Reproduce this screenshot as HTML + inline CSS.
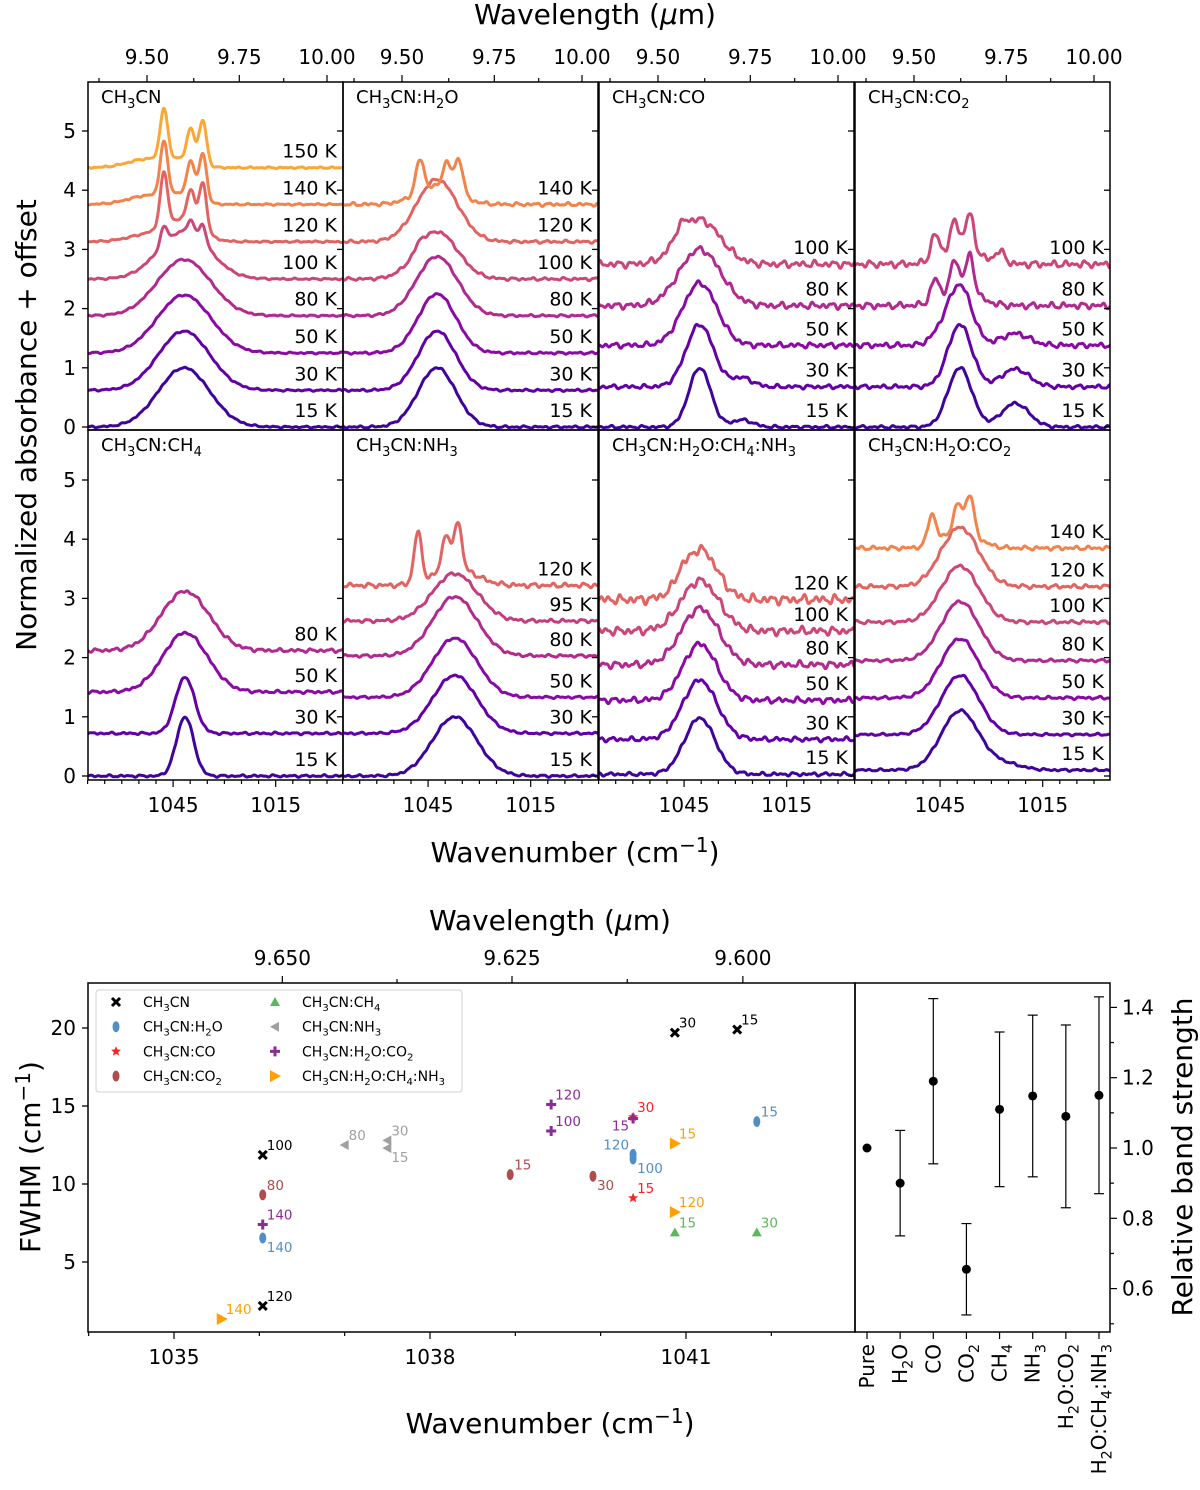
<!DOCTYPE html>
<html><head><meta charset="utf-8">
<style>
html,body{margin:0;padding:0;background:#fff;}
svg{display:block;font-family:"DejaVu Sans","Liberation Sans",sans-serif;}
</style></head>
<body>
<svg id="fig" width="1200" height="1490" viewBox="0 0 1200 1490" xmlns="http://www.w3.org/2000/svg">
<g id="topgrid"></g>
<g id="bot"></g>
<g id="rb"></g>
</svg>
<script>
// ---------- Spectra data ----------
const panelTitles = ["CH3CN","CH3CN:H2O","CH3CN:CO","CH3CN:CO2","CH3CN:CH4","CH3CN:NH3","CH3CN:H2O:CH4:NH3","CH3CN:H2O:CO2"];
const panelTemps = [
 [15,30,50,80,100,120,140,150],
 [15,30,50,80,100,120,140],
 [15,30,50,80,100],
 [15,30,50,80,100],
 [15,30,50,80],
 [15,30,50,80,95,120],
 [15,30,50,80,100,120],
 [15,30,50,80,100,120,140]
];
const panelOffsets = [
 [0,0.62,1.25,1.88,2.5,3.13,3.76,4.38],
 [0,0.62,1.25,1.88,2.5,3.13,3.76],
 [0,0.68,1.38,2.05,2.75],
 [0,0.68,1.38,2.05,2.75],
 [0,0.72,1.42,2.12],
 [0,0.72,1.33,2.03,2.62,3.22],
 [0.03,0.62,1.28,1.88,2.45,2.98],
 [0.1,0.7,1.32,1.95,2.6,3.2,3.85]
];
// peaks: [center cm-1, sigma cm-1, amplitude]
const panelPeaks = [
 [
  [[1041.8,7.5,1.0]],
  [[1041.8,7.5,1.0]],
  [[1041.8,7.8,0.98]],
  [[1041.8,7.8,0.95]],
  [[1041.8,7.5,0.8],[1047.7,1.0,0.3],[1039.8,1.0,0.22],[1036.3,1.0,0.3]],
  [[1041.8,5,0.35],[1052,6,0.12],[1047.7,1.1,0.9],[1039.8,1.1,0.55],[1036.3,1.1,0.8]],
  [[1042,4,0.15],[1052,6,0.15],[1047.7,1.1,0.9],[1039.8,1.1,0.6],[1036.3,1.1,0.8]],
  [[1042,4,0.12],[1052,6,0.15],[1047.7,1.1,0.85],[1039.8,1.1,0.55],[1036.3,1.1,0.75]]
 ],
 [
  [[1042.4,5.5,1.0]],
  [[1042.4,5.5,1.0]],
  [[1042.4,5.5,1.0]],
  [[1042.4,6,1.0]],
  [[1042.4,6,0.8],[1047.4,1.2,0.1]],
  [[1042.4,6,1.05]],
  [[1042.4,6,0.3],[1047.4,1.2,0.55],[1039.5,1.2,0.45],[1036,1.2,0.6]]
 ],
 [
  [[1040.4,3.2,1.0],[1028,3,0.12]],
  [[1040.4,4,1.05],[1028,3,0.15]],
  [[1040.4,5,1.05]],
  [[1040.4,6,0.95]],
  [[1040.4,6,0.75],[1046,2,0.2]]
 ],
 [
  [[1039.2,3.5,1.0],[1023,4,0.4]],
  [[1039.2,3.5,1.05],[1023,4,0.3]],
  [[1039.2,3.5,1.0],[1045,3,0.15],[1023,4,0.2]],
  [[1039.2,5,0.3],[1046.5,1.2,0.35],[1040.7,1.2,0.5],[1036.3,1.2,0.6]],
  [[1039.2,5,0.3],[1046.5,1.2,0.4],[1040.7,1.2,0.45],[1036.3,1.2,0.6],[1027.5,1.5,0.2]]
 ],
 [
  [[1041.5,2.5,1.0]],
  [[1041.5,2.8,0.95]],
  [[1041.5,6.5,1.0]],
  [[1041.5,7,1.0]]
 ],
 [
  [[1037.2,6.5,1.0]],
  [[1037.2,6.5,0.98]],
  [[1037.2,6.5,1.0]],
  [[1037.2,6.5,1.0]],
  [[1037.2,6.5,0.8]],
  [[1037.2,6,0.3],[1048,1.1,0.85],[1039.8,1.1,0.6],[1036.3,1.1,0.8]]
 ],
 [
  [[1040.4,4.5,0.95]],
  [[1040.4,5,1.0]],
  [[1040.4,5,0.95]],
  [[1040.4,5.5,0.95]],
  [[1040.4,5.5,0.85]],
  [[1040.4,5,0.85],[1046,1.2,0.1]]
 ],
 [
  [[1039.2,5.5,1.0],[1026,5,0.1]],
  [[1039.2,5.5,1.0]],
  [[1039.2,5.5,1.0]],
  [[1039.2,5.5,1.0]],
  [[1039.2,5.5,0.95]],
  [[1039.2,5.5,1.0]],
  [[1039.2,5,0.3],[1047.4,1.2,0.5],[1039.8,1.2,0.45],[1036.3,1.2,0.65]]
 ]
];
const panelNoise = [
 [0.015,0.015,0.015,0.015,0.015,0.015,0.015,0.015],
 [0.02,0.02,0.02,0.02,0.025,0.025,0.03],
 [0.025,0.035,0.045,0.055,0.06],
 [0.025,0.035,0.045,0.055,0.06],
 [0.02,0.02,0.025,0.03],
 [0.02,0.02,0.02,0.025,0.03,0.04],
 [0.03,0.04,0.05,0.06,0.07,0.08],
 [0.02,0.02,0.025,0.025,0.03,0.035,0.035]
];
const tempColors = {15:"#3e049c",30:"#6300a7",50:"#8b0aa5",80:"#b12a90",95:"#c43e7f",100:"#cc4778",120:"#e16462",140:"#f2844b",150:"#fca636"};
const yTicksTop = [0,1,2,3,4,5];
const wnTickLabels = [1045,1015];
const wlTickLabels = ["9.50","9.75","10.00"];

// ---------- Scatter data ----------
const seriesNames = ["CH3CN","CH3CN:H2O","CH3CN:CO","CH3CN:CO2","CH3CN:CH4","CH3CN:NH3","CH3CN:H2O:CO2","CH3CN:H2O:CH4:NH3"];
const seriesWn = [
 [1036.04,1036.04,1040.87,1041.6],
 [1036.04,1040.38,1040.38,1041.83],
 [1040.38,1040.38],
 [1036.04,1038.94,1039.91],
 [1040.87,1041.83],
 [1037.0,1037.5,1037.5],
 [1036.04,1039.42,1039.42,1040.38],
 [1035.56,1040.87,1040.87]
];
const seriesFwhm = [
 [11.86,2.18,19.7,19.9],
 [6.54,11.9,11.6,14.0],
 [14.3,9.1],
 [9.3,10.6,10.5],
 [6.9,6.9],
 [12.5,12.8,12.3],
 [7.4,15.1,13.4,14.2],
 [1.35,12.6,8.2]
];
const seriesTemps = [
 [100,120,30,15],
 [140,120,100,15],
 [30,15],
 [80,15,30],
 [15,30],
 [80,30,15],
 [140,120,100,15],
 [140,15,120]
];
const seriesLabelSide = [
 ["ur","ur","ur","ur"],
 ["lr","ul","lr","ur"],
 ["ur","ur"],
 ["ur","ur","lr"],
 ["ur","ur"],
 ["ur","ur","lr"],
 ["ur","ur","ur","ll"],
 ["ur","ur","ur"]
];
const seriesColors = ["#000000","#4f8fc8","#ff2020","#b04c4c","#5cb85c","#a0a0a0","#8b2c94","#ffa000"];
const seriesMarkers = ["x","ellipse","star","ellipse","tri-up","tri-left","plus","tri-right"];
const fwhmTicks = [5,10,15,20];
const wnTicksBot = [1035,1038,1041];
const wlTicksBot = ["9.650","9.625","9.600"];

// ---------- Band strength data ----------
const bandCats = ["Pure","H2O","CO","CO2","CH4","NH3","H2O:CO2","H2O:CH4:NH3"];
const bandVals = [1.0,0.9,1.19,0.655,1.11,1.148,1.09,1.15];
const bandErr = [0,0.15,0.235,0.13,0.22,0.23,0.26,0.28];
const bandTicks = [0.6,0.8,1.0,1.2,1.4];

const NS="http://www.w3.org/2000/svg";
function el(tag, attrs, parent){const e=document.createElementNS(NS,tag);for(const k in attrs)e.setAttribute(k,attrs[k]);if(parent)parent.appendChild(e);return e;}
function chem(s,size){
  const d=(size*0.28).toFixed(1), fs=(size*0.72).toFixed(1);
  let out="",sub=false;
  const parts=s.match(/\d+|\D+/g)||[];
  for(const p of parts){
    if(/^\d+$/.test(p)){out+=`<tspan dy="${d}" font-size="${fs}">${p}</tspan>`;sub=true;}
    else{out+= sub?`<tspan dy="-${d}">${p}</tspan>`:`<tspan>${p}</tspan>`;sub=false;}
  }
  return out;
}
function txt(parent,x,y,s,size,anchor,fill,extra){const t=el("text",Object.assign({x:x,y:y,"font-size":size,"text-anchor":anchor||"start",fill:fill||"#000"},extra||{}),parent);t.innerHTML=s;return t;}

// ================= TOP GRID =================
const topG=document.getElementById("topgrid");
const colLeft=[88,343,599,855], colW=255;
const rowTop=[82,430], rowBot=[430,780], rowZero=[427,776], unit=59.2;
function pxWn(left,wn){return left+59+(1052.63-wn)*3.42;}
function pyTop(r,v){return rowZero[r]-v*unit;}
function noise(wn,k){return 0.5*Math.sin(wn*2.1+k*1.3)+0.3*Math.sin(wn*3.7+k*2.9)+0.4*Math.sin(wn*1.3+k*0.7);}
const defs=el("defs",{},topG);
for(let p=0;p<8;p++){
  const c=p%4,r=Math.floor(p/4),left=colLeft[c],tp=rowTop[r],bt=rowBot[r];
  const g=el("g",{},topG);
  
  
  const cp=el("clipPath",{id:"cp"+p},defs);
  el("rect",{x:left,y:tp,width:colW,height:bt-tp},cp);
  const cg=el("g",{"clip-path":"url(#cp"+p+")"},g);
  const temps=panelTemps[p];
  for(let i=0;i<temps.length;i++){
    let d="";
    for(let wn=1071;wn>=994;wn-=0.25){
      let v=panelOffsets[p][i];
      for(const pk of panelPeaks[p][i]) v+=pk[2]*Math.exp(-0.5*Math.pow((wn-pk[0])/pk[1],2));
      v+=panelNoise[p][i]*noise(wn,i+p*7);
      d+=(d?"L":"M")+pxWn(left,wn).toFixed(1)+","+pyTop(r,v).toFixed(1);
    }
    const path=el("path",{d:d,fill:"none",stroke:tempColors[temps[i]],"stroke-width":3,"stroke-linejoin":"round"},cg);
    
    
    const lb=txt(g,left+colW-6,pyTop(r,panelOffsets[p][i])-10,temps[i]+" K",19,"end");
    
    
  }
  el("rect",{x:left,y:tp,width:colW,height:bt-tp,fill:"none",stroke:"#000","stroke-width":1.5},g);
  const tt=txt(g,left+13,tp+21,chem(panelTitles[p],18),18,"start");
  
  
  for(const v of yTicksTop){const y=pyTop(r,v); if(y>tp+2) el("line",{x1:left+colW,x2:left+colW-6,y1:y,y2:y,stroke:"#000","stroke-width":1.3},g);}
  if(c===0){
    for(const v of yTicksTop){const y=pyTop(r,v); if(y<tp+2) continue;
      el("line",{x1:left,x2:left-6,y1:y,y2:y,stroke:"#000","stroke-width":1.3},g);
      const yl=txt(g,left-12,y+7,String(v),20,"end");
      
      
    }
  }
  if(r===1){
    for(let wn=995;wn<=1070;wn+=5){const x=pxWn(left,wn); if(x<left-0.5||x>left+colW+0.5) continue;
      const major=wnTickLabels.indexOf(wn)>=0;
      el("line",{x1:x,x2:x,y1:bt,y2:bt+(major?7:4),stroke:"#000","stroke-width":1.2},g);
      if(major){const t=txt(g,x,bt+32,String(wn),20,"middle");
        
        }
    }
  }
  if(r===0){
    for(let lam=9.375;lam<=10.13;lam+=0.125){const x=pxWn(left,1e4/lam); if(x<left||x>left+colW) continue;
      const lab=wlTickLabels.find(s=>Math.abs(parseFloat(s)-lam)<1e-6);
      el("line",{x1:x,x2:x,y1:tp,y2:tp-(lab?7:4),stroke:"#000","stroke-width":1.2},g);
      if(lab){const t=txt(g,x,tp-18,lab,20,"middle");
        
        }
    }
  }
}
let tx;
tx=txt(topG,595,24,"Wavelength (<tspan font-style=\"italic\">μ</tspan>m)",28,"middle");

tx=txt(topG,575,862,"Wavenumber (cm<tspan dy=\"-10\" font-size=\"20\">−1</tspan><tspan dy=\"10\">)</tspan>",28,"middle");

tx=txt(topG,0,0,"Normalized absorbance + offset",28,"middle","#000",{transform:"translate(36,425) rotate(-90)"});


// ================= BOTTOM SCATTER =================
const bot=document.getElementById("bot");
const bL=88,bR=855,bT=983,bB=1332;
function bx(wn){return 174+(wn-1035)*85.33;}
function by(v){return 1028-(v-20)*15.6;}
el("rect",{x:bL,y:bT,width:bR-bL,height:bB-bT,fill:"none",stroke:"#000","stroke-width":1.5},bot);
for(let wn=1034;wn<=1042;wn++){const x=bx(wn); if(x<bL-0.5||x>bR) continue;
  const major=wnTicksBot.indexOf(wn)>=0;
  el("line",{x1:x,x2:x,y1:bB,y2:bB+(major?7:4),stroke:"#000","stroke-width":1.2},bot);
  if(major){tx=txt(bot,x,bB+32,String(wn),20,"middle");}
}
for(let k=0;k<5;k++){const lam=9.65-k*0.0125;const x=bx(1e4/lam);
  const lab=wlTicksBot.find(s=>Math.abs(parseFloat(s)-lam)<1e-6);
  el("line",{x1:x,x2:x,y1:bT,y2:bT-(lab?7:4),stroke:"#000","stroke-width":1.2},bot);
  if(lab){tx=txt(bot,x,bT-18,lab,20,"middle");}
}
for(const v of fwhmTicks){const y=by(v);
  el("line",{x1:bL,x2:bL-6,y1:y,y2:y,stroke:"#000","stroke-width":1.3},bot);
  tx=txt(bot,bL-12,y+7,String(v),20,"end");
}
tx=txt(bot,550,930,"Wavelength (<tspan font-style=\"italic\">μ</tspan>m)",28,"middle");

tx=txt(bot,550,1433,"Wavenumber (cm<tspan dy=\"-10\" font-size=\"20\">−1</tspan><tspan dy=\"10\">)</tspan>",28,"middle");

tx=txt(bot,0,0,"FWHM (cm<tspan dy=\"-10\" font-size=\"20\">−1</tspan><tspan dy=\"10\">)</tspan>",28,"middle","#000",{transform:"translate(40,1157) rotate(-90)"});


function marker(parent,type,x,y,col){
  const g=el("g",{},parent);
  if(type==="x"){el("path",{d:`M${x-4},${y-4}L${x+4},${y+4}M${x-4},${y+4}L${x+4},${y-4}`,stroke:col,"stroke-width":3},g);}
  else if(type==="ellipse"){el("ellipse",{cx:x,cy:y,rx:3.5,ry:5.5,fill:col},g);}
  else if(type==="star"){let pts=[];for(let i=0;i<10;i++){const a=-Math.PI/2+i*Math.PI/5,rr=i%2?2.3:5.2;pts.push((x+rr*Math.cos(a)).toFixed(1)+","+(y+rr*Math.sin(a)).toFixed(1));}el("polygon",{points:pts.join(" "),fill:col},g);}
  else if(type==="tri-up"){el("polygon",{points:`${x},${y-5} ${x+5},${y+4} ${x-5},${y+4}`,fill:col},g);}
  else if(type==="tri-left"){el("polygon",{points:`${x-5},${y} ${x+4},${y-5} ${x+4},${y+5}`,fill:col},g);}
  else if(type==="tri-right"){el("polygon",{points:`${x+6},${y} ${x-5},${y-6} ${x-5},${y+6}`,fill:col},g);}
  else if(type==="plus"){el("path",{d:`M${x-5},${y}L${x+5},${y}M${x},${y-5}L${x},${y+5}`,stroke:col,"stroke-width":3},g);}
  return g;
}
for(let s=0;s<seriesNames.length;s++){
  const sg=el("g",{},bot);
  
  
  for(let i=0;i<seriesWn[s].length;i++){
    const x=bx(seriesWn[s][i]),y=by(seriesFwhm[s][i]);
    const m=marker(sg,seriesMarkers[s],x,y,seriesColors[s]);
    
    
    const side=seriesLabelSide[s][i];
    let lx=x+4,ly=y-5,anc="start";
    if(side==="lr"){ly=y+14;}
    if(side==="ul"){lx=x-4;anc="end";}
    if(side==="ll"){lx=x-4;ly=y+12;anc="end";}
    const lt=txt(sg,lx,ly,String(seriesTemps[s][i]),13.5,anc,seriesColors[s]);
    
    
  }
}
const lg=el("g",{},bot);


el("rect",{x:96,y:990,width:366,height:102,fill:"#fff",stroke:"#d0d0d0","stroke-width":1,rx:3},lg);
for(let s=0;s<seriesNames.length;s++){
  const col=Math.floor(s/4),row=s%4;
  const mx=col?275:116,yy=1002+row*24.7;
  const eg=el("g",{},lg);
  
  
  marker(eg,seriesMarkers[s],mx,yy,seriesColors[s]);
  txt(eg,col?302:143,yy+5,chem(seriesNames[s],14),14,"start");
}

// ================= RIGHT BAND STRENGTH =================
const rb=document.getElementById("rb");
const rL=855,rR=1110;
function rx(i){return 867+i*33.14;}
function ry(v){return 1148-(v-1)*351.5;}
el("rect",{x:rL,y:bT,width:rR-rL,height:bB-bT,fill:"none",stroke:"#000","stroke-width":1.5},rb);
for(let k=5;k<=14;k++){const v=k/10,y=ry(v);if(y<bT||y>bB)continue;
  const major=bandTicks.some(b=>Math.abs(b-v)<1e-6);
  el("line",{x1:rR,x2:rR+(major?7:4),y1:y,y2:y,stroke:"#000","stroke-width":1.2},rb);
  if(major){tx=txt(rb,rR+12,y+7,v.toFixed(1),20,"start");}
}
for(let i=0;i<bandCats.length;i++){
  const x=rx(i);
  el("line",{x1:x,x2:x,y1:bB,y2:bB+7,stroke:"#000","stroke-width":1.2},rb);
  tx=txt(rb,0,0,chem(bandCats[i],20),20,"end","#000",{transform:`translate(${x+7},${bB+12}) rotate(-90)`});
  
  const g=el("g",{},rb);
  
  
  if(bandErr[i]>0){
    const y1=ry(bandVals[i]+bandErr[i]),y2=ry(bandVals[i]-bandErr[i]);
    el("line",{x1:x,x2:x,y1:y1,y2:y2,stroke:"#000","stroke-width":1.2},g);
    el("line",{x1:x-5,x2:x+5,y1:y1,y2:y1,stroke:"#000","stroke-width":1.2},g);
    el("line",{x1:x-5,x2:x+5,y1:y2,y2:y2,stroke:"#000","stroke-width":1.2},g);
  }
  el("circle",{cx:x,cy:ry(bandVals[i]),r:4.5,fill:"#000"},g);
}
tx=txt(rb,0,0,"Relative band strength",28,"middle","#000",{transform:"translate(1192,1157) rotate(-90)"});

</script>
</body></html>
